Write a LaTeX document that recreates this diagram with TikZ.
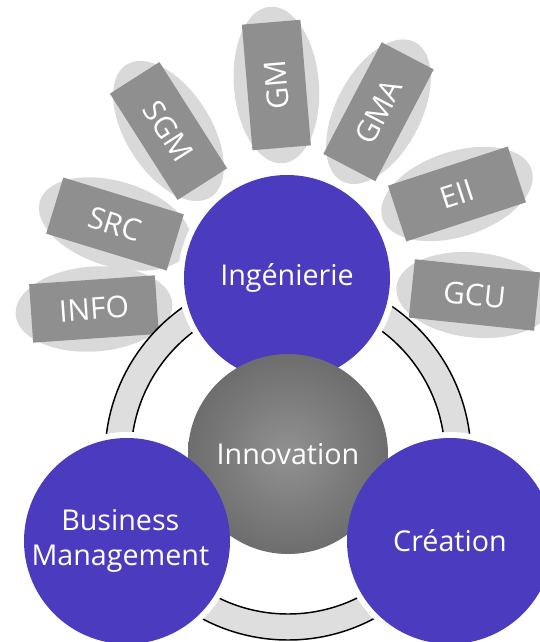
\documentclass[tikz,border=0pt]{standalone}
\usepackage{fontspec}
\setmainfont{Open Sans}
\definecolor{ingblue}{RGB}{74, 59, 191}
\definecolor{boxgray}{RGB}{143, 143, 143}
\definecolor{halogray}{RGB}{217, 217, 217}
\definecolor{ringgray}{RGB}{222, 222, 222}
\definecolor{sphlight}{RGB}{145, 145, 145}
\definecolor{sphmid}{RGB}{105, 105, 105}
\definecolor{sphdark}{RGB}{58, 58, 58}
\usepackage{tikz}
\usetikzlibrary{shapes.geometric}
\pgfdeclareradialshading{innosphere}{\pgfpoint{0bp}{0bp}}{color(0bp)=(sphlight); color(28bp)=(sphmid); color(46bp)=(sphdark); color(50bp)=(sphdark)}

\begin{document}
\begin{tikzpicture}[x=0.75pt, y=-0.75pt,
    pole/.style={circle, fill=ingblue, minimum size=154.5pt, inner sep=0pt, text=white, align=center, font=\fontsize{21.5pt}{26pt}\selectfont},
    halo/.style={ellipse, fill=halogray, minimum width=117.75pt, minimum height=63.75pt, inner sep=0pt},
    filiere/.style={rectangle, fill=boxgray, minimum width=94.5pt, minimum height=44pt, inner sep=0pt, text=white, font=\fontsize{22.5pt}{26pt}\selectfont}]
  \useasboundingbox (0, 0) rectangle (539, 642);

  % Filieres around Ingenierie
  \node[halo, rotate=4] (infohalo) at (94, 309) {};
  \node[filiere, rotate=4] (info) at (94, 309) {INFO};
  \node[halo, rotate=-17] (srchalo) at (115, 224) {};
  \node[filiere, rotate=-17] (src) at (115, 224) {SRC};
  \node[halo, rotate=-57.5] (sgmhalo) at (168.5, 131) {};
  \node[filiere, rotate=-57.5] (sgm) at (168.5, 131) {SGM};
  \node[halo, rotate=94.8] (gmhalo) at (276.4, 85) {};
  \node[filiere, rotate=94.8] (gm) at (276.4, 85) {GM};
  \node[halo, rotate=62.4] (gmahalo) at (378.5, 111.7) {};
  \node[filiere, rotate=62.4] (gma) at (378.5, 111.7) {GMA};
  \node[halo, rotate=18.1] (eiihalo) at (457, 194) {};
  \node[filiere, rotate=18.1] (eii) at (457, 194) {EII};
  \node[halo, rotate=-6] (gcuhalo) at (474.5, 295) {};
  \node[filiere, rotate=-6] (gcu) at (474.5, 295) {GCU};

  % Ring
  \coordinate (ringc) at (288, 457);
  \fill[ringgray, even odd rule] (ringc) circle (183) (ringc) circle (157);
  \draw[line width=1.1pt] (ringc) circle (183) (ringc) circle (157);

  % White gaps round the three poles
  \coordinate (ingc) at (287, 278);
  \coordinate (busc) at (127, 541);
  \coordinate (crec) at (450, 541);
  \fill[white] (ingc) circle (109) (busc) circle (109) (crec) circle (109);

  % Poles
  \node[pole] (ing) at (ingc) {Ingénierie};
  \node[circle, shading=innosphere, minimum size=150pt, inner sep=0pt, text=white, font=\fontsize{21.5pt}{26pt}\selectfont] (inno) at (288, 454) {Innovation};
  \node[pole] (bus) at (busc) {\hspace*{-10pt}Business\\\hspace*{-10pt}Management};
  \node[pole] (cre) at (crec) {Création};
\end{tikzpicture}
\end{document}
